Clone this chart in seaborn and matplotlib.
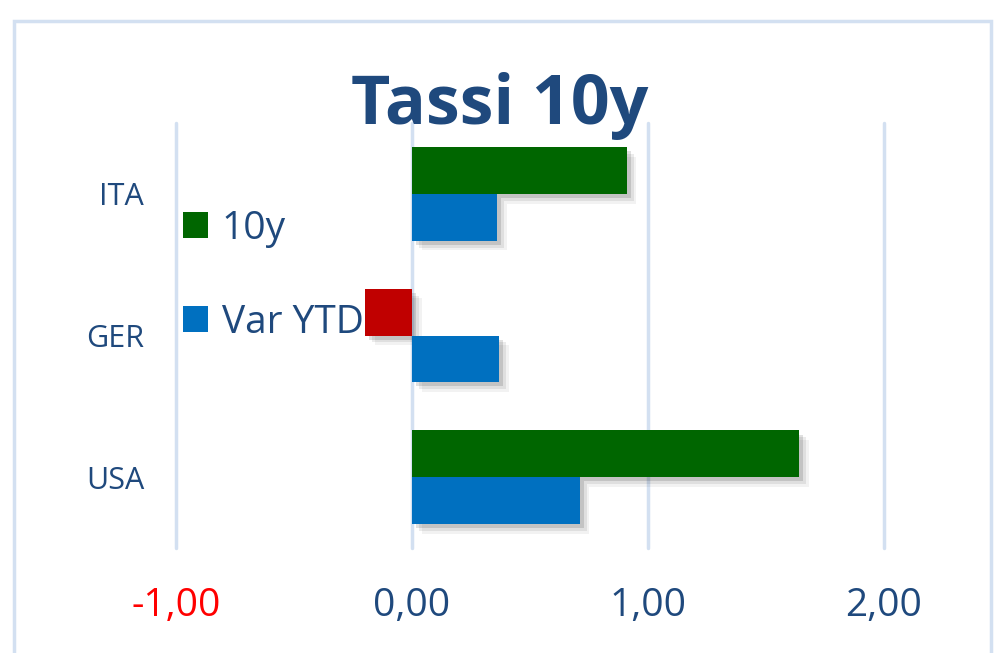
import matplotlib
matplotlib.use("Agg")
import matplotlib.pyplot as plt
import matplotlib.patheffects as pe
from matplotlib.patches import Rectangle, Patch
import seaborn as sns
import pandas as pd

# ---- data ----
categories = ["ITA", "GER", "USA"]
series_names = ["10y", "Var YTD"]
values_10y = [0.91, -0.20, 1.64]
values_var_ytd = [0.36, 0.37, 0.71]
x_ticks = [-1.0, 0.0, 1.0, 2.0]

title = "Tassi 10y"
colors = {"10y": "#006600", "Var YTD": "#0070C0"}
neg_color = "#C00000"
text_color = "#1F497D"
grid_color = "#D3E0F1"

df = pd.DataFrame({
    "country": categories * 2,
    "serie": [series_names[0]] * 3 + [series_names[1]] * 3,
    "value": values_10y + values_var_ytd,
})

sns.set_theme(style="white")
plt.rcParams["font.family"] = ["Open Sans", "DejaVu Sans"]

fig = plt.figure(figsize=(9.95, 6.53), dpi=100)
ax = fig.add_axes([176 / 995, 1 - 548 / 653, (884 - 176) / 995, (548 - 123) / 653])

sns.barplot(data=df, y="country", x="value", hue="serie", order=categories,
            hue_order=series_names, palette=colors, orient="h", width=0.66,
            ax=ax, legend=False, saturation=1)

shadow = [pe.SimplePatchShadow(offset=(7, -7), shadow_rgbFace="black", alpha=0.05),
          pe.SimplePatchShadow(offset=(5, -5), shadow_rgbFace="black", alpha=0.08),
          pe.SimplePatchShadow(offset=(3, -3), shadow_rgbFace="black", alpha=0.12),
          pe.Normal()]
for p in ax.patches:
    p.set_edgecolor("none")
    if p.get_width() < 0:
        p.set_facecolor(neg_color)
    p.set_path_effects(shadow)
    p.set_zorder(3)

ax.set_xlim(-1.0, 2.0)
ax.set_xticks(x_ticks)
ax.set_xticklabels([f"{v:.2f}".replace(".", ",") for v in x_ticks], fontsize=28)
for lbl, v in zip(ax.get_xticklabels(), x_ticks):
    lbl.set_color("#FF0000" if v < 0 else text_color)
ax.tick_params(axis="x", length=0, pad=28)
ax.tick_params(axis="y", length=0, pad=23, labelsize=22, labelcolor=text_color)
ax.set_xlabel("")
ax.set_ylabel("")
for s in ax.spines.values():
    s.set_visible(False)
for v in x_ticks:
    ax.axvline(v, color=grid_color, lw=2.5, zorder=0, clip_on=False)

handles = [Patch(facecolor=colors[n], edgecolor="none") for n in series_names]
fig.legend(handles, series_names, loc="upper left",
           bbox_to_anchor=(183 / 995, 1 - 210 / 653), frameon=False,
           fontsize=28, labelcolor=text_color, handlelength=0.65, handleheight=0.65,
           handletextpad=0.35, labelspacing=1.44, borderpad=0, borderaxespad=0)

fig.text(500 / 995, 1 - 124 / 653, title, ha="center", va="baseline",
         fontsize=49, fontweight="bold", color=text_color)

fig.patches.append(Rectangle((14 / 995, -0.05), (991 - 14) / 995, 1.05 - 21 / 653,
                             transform=fig.transFigure, fill=False,
                             edgecolor=grid_color, lw=2.5))

fig.savefig("out.png", dpi=100, facecolor="white")
